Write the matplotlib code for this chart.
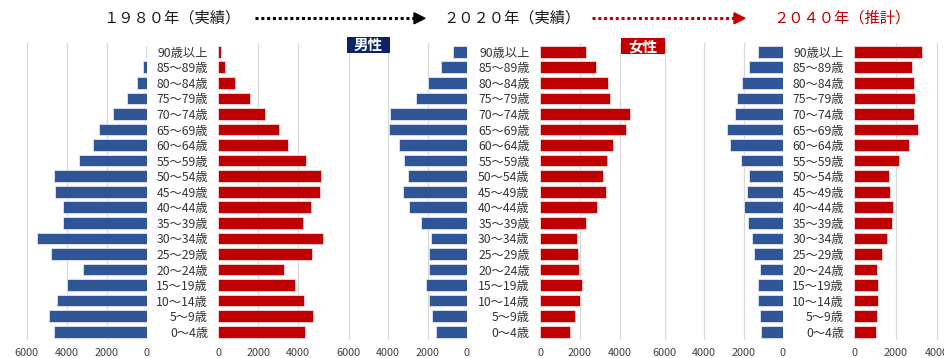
import matplotlib
matplotlib.use("Agg")
import matplotlib.pyplot as plt
from matplotlib.patches import Rectangle, Polygon
from matplotlib.lines import Line2D

plt.rcParams['font.family'] = ['Noto Sans CJK JP', 'DejaVu Sans']

# age groups, bottom (youngest) to top
ages = ["0～4歳", "5～9歳", "10～14歳", "15～19歳", "20～24歳", "25～29歳",
        "30～34歳", "35～39歳", "40～44歳", "45～49歳", "50～54歳", "55～59歳",
        "60～64歳", "65～69歳", "70～74歳", "75～79歳", "80～84歳", "85～89歳",
        "90歳以上"]

male_1980 = [4620, 4870, 4500, 3970, 3170, 4800, 5500, 4200, 4170, 4600,
             4630, 3370, 2700, 2380, 1670, 1000, 500, 170, 60]
female_1980 = [4330, 4720, 4280, 3830, 3280, 4680, 5220, 4250, 4630, 5070,
               5150, 4380, 3470, 3050, 2330, 1600, 820, 335, 120]

male_2020 = [1565, 1800, 1950, 2085, 1950, 1950, 1850, 2315, 2965, 3235,
             3000, 3185, 3465, 3935, 3885, 2585, 1985, 1335, 715]
female_2020 = [1515, 1735, 1985, 2115, 1935, 1885, 1835, 2300, 2850, 3285,
               3150, 3335, 3650, 4300, 4500, 3500, 3385, 2800, 2285]

male_2040 = [1130, 1180, 1245, 1245, 1180, 1450, 1575, 1795, 1965, 1830,
             1730, 2120, 2700, 2835, 2445, 2325, 2100, 1730, 1265]
female_2040 = [1045, 1090, 1155, 1140, 1105, 1360, 1570, 1810, 1860, 1730,
               1665, 2145, 2625, 3060, 2865, 2915, 2865, 2785, 3280]

years = ["１９８０年（実績）", "２０２０年（実績）", "２０４０年（推計）"]
male_ticks = [0, 2000, 4000, 6000]
female_ticks = [0, 2000, 4000]

BLUE = "#2f5597"
RED = "#c00000"
NAVY = "#0b2466"
GRID = "#d9d9d9"
TEXT = "#333333"

W, H = 944, 358
fig = plt.figure(figsize=(W / 100, H / 100), dpi=100)
fig.patch.set_facecolor("white")


def rect(x0, y0, w, h):
    """pixel box (top-left origin) -> figure fraction"""
    return [x0 / W, 1 - (y0 + h) / H, w / W, h / H]


# plot area in pixels, and per-panel zero positions / px-per-unit scale
TOP, BOTTOM = 43, 340
YLIM = (-0.53, 18.56)
panels = [
    # male zero, male scale, female zero, female scale
    (146.7, 0.0200, 218.3, 0.0200),
    (467.0, 0.0197, 540.0, 0.0200),
    (783.0, 0.0197, 854.3, 0.0207),
]
series = [(male_1980, female_1980), (male_2020, female_2020),
          (male_2040, female_2040)]

y = list(range(len(ages)))

for (m0, ms, f0, fs), (male, female) in zip(panels, series):
    axm = fig.add_axes(rect(m0 - 6000 * ms, TOP, 6000 * ms, BOTTOM - TOP))
    axf = fig.add_axes(rect(f0, TOP, 5800 * fs, BOTTOM - TOP))

    axm.barh(y, male, height=0.75, color=BLUE, edgecolor="#dfe6f2",
             linewidth=0.6, zorder=2)
    axf.barh(y, female, height=0.75, color=RED, edgecolor="#f2dcdc",
             linewidth=0.6, zorder=2)

    axm.set_xlim(6000, 0)
    axf.set_xlim(0, 5800)
    axm.set_xticks(male_ticks, [str(t) for t in male_ticks])
    axf.set_xticks(female_ticks, [str(t) for t in female_ticks])
    for t in male_ticks[1:]:
        axm.axvline(t, color=GRID, lw=0.9, zorder=1)
    for t in female_ticks[1:]:
        axf.axvline(t, color=GRID, lw=0.9, zorder=1)

    axm.set_yticks([])
    axf.set_yticks(y, ages)
    axf.tick_params(axis="y", length=0, pad=7.4, labelsize=8.8,
                    labelcolor=TEXT)

    for ax in (axm, axf):
        ax.set_ylim(*YLIM)
        ax.patch.set_alpha(0)
        ax.tick_params(axis="x", length=0, pad=6, labelsize=7.8,
                       labelcolor="#404040")
        for s in ax.spines.values():
            s.set_visible(False)

# year headings with dotted arrows between them
ty = 1 - 18.3 / H
fig.text(171.7 / W, ty, years[0], ha="center", va="center", fontsize=11,
         color="#1a1a1a")
fig.text(511.7 / W, ty, years[1], ha="center", va="center", fontsize=11,
         color="#1a1a1a")
fig.text(841.7 / W, ty, years[2], ha="center", va="center", fontsize=11,
         color=RED)


def dotted_arrow(x0, x1, color):
    head = 11
    line = Line2D([x0 / W, (x1 - head) / W], [ty, ty], color=color, lw=2.2,
                  dashes=(1, 0.9), solid_capstyle="butt",
                  dash_capstyle="butt", transform=fig.transFigure)
    tri = Polygon([[(x1 - head) / W, ty + 5.5 / H], [x1 / W, ty],
                   [(x1 - head) / W, ty - 5.5 / H]], closed=True,
                  color=color, transform=fig.transFigure)
    fig.add_artist(line)
    fig.add_artist(tri)


dotted_arrow(255, 425, "#000000")
dotted_arrow(592, 745, RED)

# 男性 / 女性 badges
for x0, x1, yt, yb, color, label in [(346.7, 390, 37.3, 53.3, NAVY, "男性"),
                                     (620.7, 665, 38.3, 54.0, RED, "女性")]:
    fig.add_artist(Rectangle((x0 / W, 1 - yb / H), (x1 - x0) / W,
                             (yb - yt) / H, facecolor=color, edgecolor="none",
                             transform=fig.transFigure, zorder=5))
    fig.text((x0 + x1) / 2 / W, 1 - (yt + yb) / 2 / H, label, ha="center",
             va="center", fontsize=10.5, color="white", fontweight="bold",
             zorder=6)

fig.savefig("out.png", dpi=100)
